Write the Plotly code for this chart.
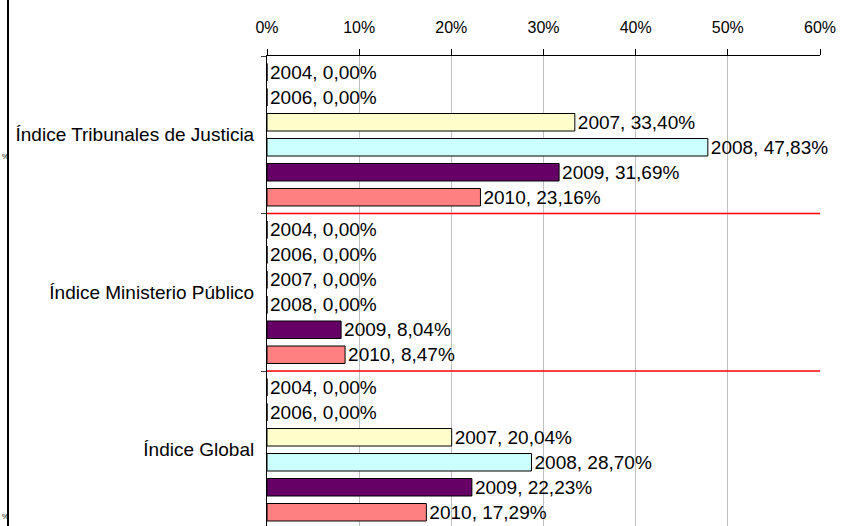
import plotly.graph_objects as go

categories = ["Índice Tribunales de Justicia", "Índice Ministerio Público", "Índice Global"]
years = ["2004", "2006", "2007", "2008", "2009", "2010"]
v2004 = [0.00, 0.00, 0.00]
v2006 = [0.00, 0.00, 0.00]
v2007 = [33.40, 0.00, 20.04]
v2008 = [47.83, 0.00, 28.70]
v2009 = [31.69, 8.04, 22.23]
v2010 = [23.16, 8.47, 17.29]
series = [v2004, v2006, v2007, v2008, v2009, v2010]
colors = ["#9999FF", "#993366", "#FFFFCC", "#CCFFFF", "#660066", "#FF8080"]
x_ticks = [0, 10, 20, 30, 40, 50, 60]
x_ticktext = [f"{t}%" for t in x_ticks]

W, H = 843, 526
L, R, T, B = 267, 23, 56, 0
PW = W - L - R
FONT = "Liberation Sans, Arial, sans-serif"

def fmt(y, v):
    return f"{y}, " + f"{v:.2f}".replace(".", ",") + "%"

fig = go.Figure()
for y, vals, c in zip(years, series, colors):
    fig.add_trace(go.Bar(
        y=categories, x=vals, orientation="h", name=y,
        marker=dict(color=c, line=dict(color="#000000", width=1)),
        text=[fmt(y, v) for v in vals], textposition="outside",
        textfont=dict(family=FONT, size=19, color="#000000"),
        constraintext="none", cliponaxis=False,
    ))

shapes = []
for yb in [0.5, 1.5]:
    shapes.append(dict(type="line", xref="x", yref="y", x0=0, x1=60, y0=yb, y1=yb,
                       line=dict(color="#FF0000", width=1.5)))
# left border line of the original frame
xl = (8 - L) / PW
shapes.append(dict(type="line", xref="paper", yref="paper", x0=xl, x1=xl, y0=-0.05, y1=1.2,
                   line=dict(color="#000000", width=2)))

annotations = []
for py in [156, 516]:
    annotations.append(dict(xref="paper", yref="paper", x=(0 - L) / PW,
                            y=1 - (py - T) / (H - T - B), text="%", showarrow=False,
                            xanchor="left", yanchor="middle",
                            font=dict(family=FONT, size=7, color="#000000")))

fig.update_layout(
    width=W, height=H, margin=dict(l=L, r=R, t=T, b=B, autoexpand=False),
    paper_bgcolor="white", plot_bgcolor="white",
    barmode="group", bargap=0.048, bargroupgap=0.3,
    showlegend=False, shapes=shapes, annotations=annotations,
    font=dict(family=FONT, size=18, color="#000000"),
    xaxis=dict(side="top", range=[0, 60], tickmode="array", tickvals=x_ticks,
               ticktext=x_ticktext,
               showgrid=True, gridcolor="#C0C0C0", gridwidth=1,
               showline=True, linecolor="#000000", linewidth=1,
               ticks="outside", ticklen=6, tickcolor="#000000",
               ticklabelstandoff=10, zeroline=False, automargin=False,
               tickfont=dict(family=FONT, size=16, color="#000000")),
    yaxis=dict(type="category", range=[2.484, -0.5], showgrid=False,
               showline=True, linecolor="#000000", linewidth=1,
               ticks="outside", tickson="boundaries", ticklen=5, tickcolor="#404040",
               ticklabelstandoff=8, automargin=False,
               tickfont=dict(family=FONT, size=19, color="#000000")),
)

fig.write_html("out.html", config={"displayModeBar": False},
               post_script="document.body.style.margin='0';document.body.style.padding='0';")
